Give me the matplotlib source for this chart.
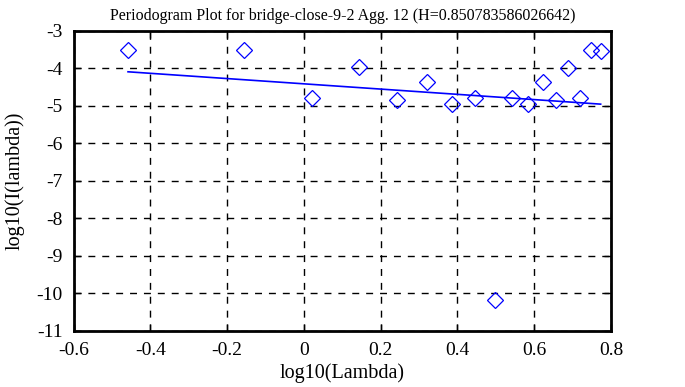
import numpy as np
import matplotlib
matplotlib.use('Agg')
from matplotlib import pyplot as plt

# periodogram points
log_lambda = [-0.458, -0.156, 0.021, 0.144, 0.242, 0.322, 0.387, 0.446, 0.498,
              0.543, 0.584, 0.622, 0.657, 0.689, 0.719, 0.747, 0.773]
log_I = [-3.51, -3.51, -4.79, -3.97, -4.84, -4.35, -4.95, -4.79, -10.19,
         -4.79, -4.95, -4.35, -4.84, -3.98, -4.78, -3.51, -3.53]

# fitted line: slope = 1 - 2H
H = 0.850783586026642
fit_slope = 1 - 2 * H
fit_intercept = -4.411

title = 'Periodogram Plot for bridge-close-9-2 Agg. 12 (H=0.850783586026642)'
xticks = [-0.6, -0.4, -0.2, 0, 0.2, 0.4, 0.6, 0.8]
xticklabels = ['-0.6', '-0.4', '-0.2', '0', '0.2', '0.4', '0.6', '0.8']
yticks = list(range(-11, -2))

plt.rcParams['font.family'] = 'Liberation Serif'
plt.rcParams['font.size'] = 14
plt.rcParams['axes.unicode_minus'] = False

fig = plt.figure(figsize=(6.85, 3.87), dpi=100)
ax = fig.add_axes([0.1073, 0.1455, 0.7847, 0.7745])

ax.plot(log_lambda, log_I, linestyle='none', marker='D', markersize=8,
        markerfacecolor='none', markeredgecolor='blue', markeredgewidth=0.9)
xs = np.array([min(log_lambda), max(log_lambda)])
ax.plot(xs, fit_intercept + fit_slope * xs, color='blue', linewidth=1.2)

ax.set_xlim(-0.6, 0.8)
ax.set_ylim(-11, -3)
ax.set_xticks(xticks)
ax.set_xticklabels(xticklabels)
ax.set_yticks(yticks)
ax.grid(True, color='black', linestyle=(0, (5, 5)), linewidth=1)
ax.tick_params(direction='in', top=True, right=True, length=5, width=1, pad=8)
for s in ax.spines.values():
    s.set_linewidth(2)

ax.set_title(title, fontsize=11.5, pad=8)
ax.set_xlabel('log10(Lambda)', fontsize=14.5, labelpad=3)
ax.set_ylabel('log10(I(lambda))', fontsize=14.5, labelpad=8)

fig.savefig('out.png', dpi=100)
